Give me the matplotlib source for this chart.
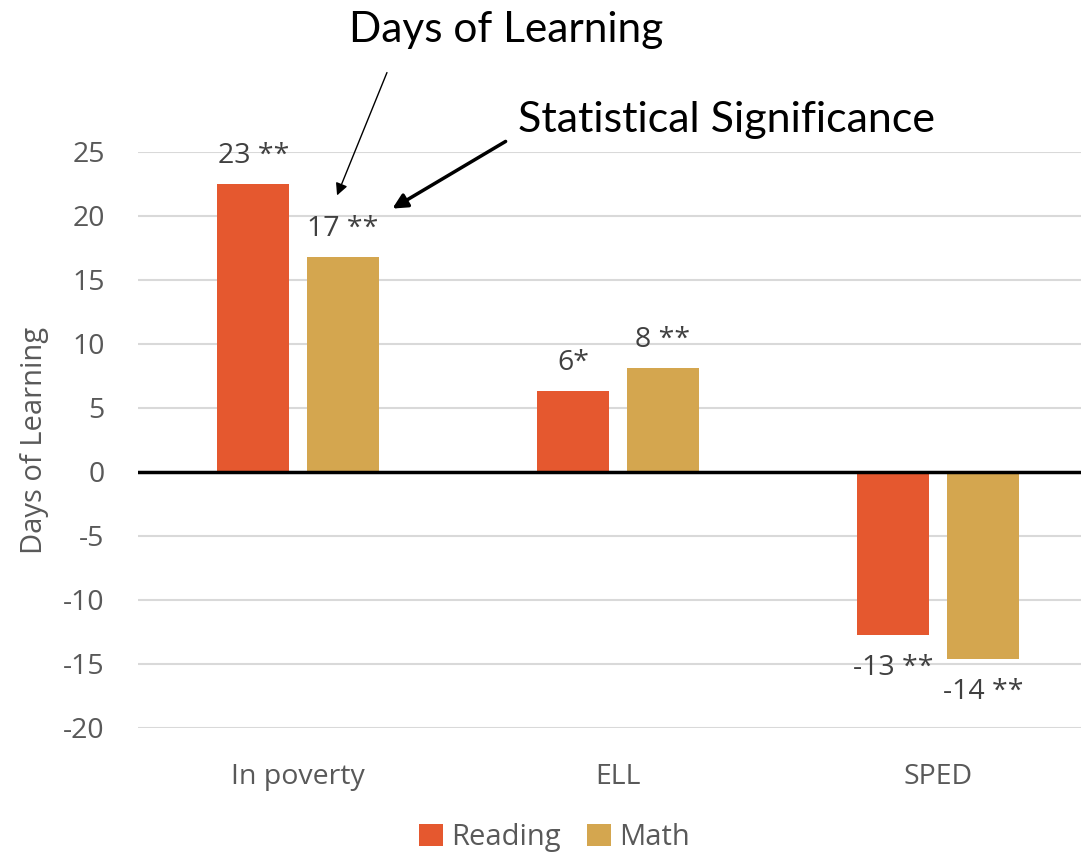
import numpy as np
import matplotlib
matplotlib.use('Agg')
import matplotlib.pyplot as plt

##### DATA #####
categories = ['In poverty', 'ELL', 'SPED']
reading = [22.5, 6.3, -12.7]
math_vals = [16.8, 8.1, -14.6]
reading_labels = ['23 **', '6*', '-13 **']
math_labels = ['17 **', '8 **', '-14 **']
yticks = [-20, -15, -10, -5, 0, 5, 10, 15, 20, 25]

red = '#E5582F'
gold = '#D4A64F'
grey = '#595959'

plt.rcParams['font.family'] = ['Open Sans', 'DejaVu Sans']
plt.rcParams['axes.unicode_minus'] = False

fig = plt.figure(figsize=(10.81, 8.56), dpi=100)
W, H = 1081., 856.
# axes placed so that the last category runs off the right edge like the original
ax = fig.add_axes([138/W, 128/H, 960/W, 576/H])

x = np.arange(len(categories))
bw = 0.225
off = 0.14
b1 = ax.bar(x - off, reading, bw, color=red, label='Reading', zorder=3)
b2 = ax.bar(x + off, math_vals, bw, color=gold, label='Math', zorder=3)

# value labels
for bars, labs in [(b1, reading_labels), (b2, math_labels)]:
    for rect, lab in zip(bars, labs):
        h = rect.get_height()
        cx = rect.get_x() + rect.get_width()/2
        if h >= 0:
            ax.annotate(lab, (cx, h), xytext=(0, 10), textcoords='offset points',
                        ha='center', va='bottom', fontsize=20.5, color='#404040')
        else:
            ax.annotate(lab, (cx, h), xytext=(0, -14), textcoords='offset points',
                        ha='center', va='top', fontsize=20.5, color='#404040')

ax.set_xlim(-0.5, 2.5)
ax.set_ylim(-20, 25)
ax.set_yticks(yticks)
ax.set_xticks(x)
ax.set_xticklabels(categories)
ax.tick_params(axis='both', length=0, labelsize=20.5, labelcolor=grey)
ax.tick_params(axis='x', pad=25)
ax.tick_params(axis='y', pad=24)
ax.grid(axis='y', color='#D9D9D9', linewidth=1.5, zorder=0)
ax.axhline(0, color='black', linewidth=2.5, zorder=4)
for s in ax.spines.values():
    s.set_visible(False)
ax.set_ylabel('Days of Learning', fontsize=21, color=grey, labelpad=10)

leg = ax.legend(loc='center', bbox_to_anchor=(0.434, -0.19), ncol=2, frameon=False,
                fontsize=21, handlelength=0.8, handleheight=0.8, handletextpad=0.3,
                columnspacing=0.9, labelcolor=grey)

# callout annotations
fig.text(506/W, 1 - 30/H, 'Days of Learning', fontsize=30.5, ha='center', va='center',
         family=['Lato', 'DejaVu Sans'], color='black')
fig.text(727/W, 1 - 120/H, 'Statistical Significance', fontsize=31, ha='center', va='center',
         family=['Lato', 'DejaVu Sans'], color='black')
fig.add_artist(matplotlib.patches.FancyArrowPatch(
    (388/W, 1 - 70/H), (336/W, 1 - 198/H), transform=fig.transFigure,
    arrowstyle='-|>', mutation_scale=18, lw=1.0, color='black'))
fig.add_artist(matplotlib.patches.FancyArrowPatch(
    (508/W, 1 - 140/H), (390/W, 1 - 210/H), transform=fig.transFigure,
    arrowstyle='-|>', mutation_scale=22, lw=2.5, color='black'))

fig.savefig('out.png', dpi=100)
